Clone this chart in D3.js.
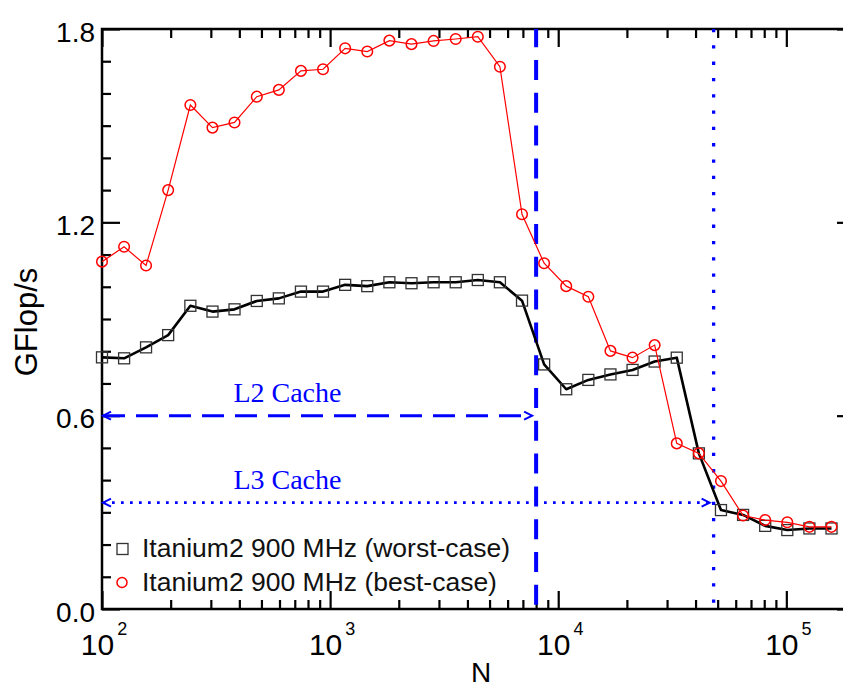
<!DOCTYPE html>
<html>
<head>
<meta charset="utf-8">
<script src="https://cdn.jsdelivr.net/npm/d3@7"></script>
<style>
  html, body { margin: 0; padding: 0; background: #fff; }
  svg { display: block; }
</style>
</head>
<body>
<svg id="chart" width="843" height="689"></svg>
<script>
// problem sizes N (log axis)
const sizes = [100, 125, 156, 195, 244, 305, 381, 477, 596, 745, 931, 1164, 1455, 1819,
  2274, 2842, 3553, 4441, 5551, 6939, 8674, 10842, 13553, 16941, 21176, 26470, 33087,
  41359, 51699, 64623, 80779, 100974, 126218, 157772]

// GFlop/s
const worstCase = [0.781, 0.778, 0.812, 0.850, 0.941, 0.923, 0.930, 0.956, 0.964, 0.985,
  0.985, 1.006, 1.002, 1.014, 1.011, 1.014, 1.014, 1.021, 1.014, 0.957, 0.759, 0.682,
  0.711, 0.728, 0.742, 0.768, 0.780, 0.483, 0.307, 0.292, 0.258, 0.245, 0.250, 0.250]

const bestCase = [1.078, 1.124, 1.066, 1.300, 1.564, 1.494, 1.510, 1.590, 1.611, 1.670,
  1.675, 1.740, 1.730, 1.764, 1.753, 1.763, 1.769, 1.776, 1.683, 1.225, 1.073, 1.002,
  0.969, 0.801, 0.780, 0.819, 0.514, 0.483, 0.397, 0.290, 0.276, 0.269, 0.255, 0.255]

const seriesNames = ["Itanium2 900 MHz (worst-case)", "Itanium2 900 MHz (best-case)"]

const xMajorTicks = [1e2, 1e3, 1e4, 1e5]
const xTickExponents = ["2", "3", "4", "5"]
const yMajorTicks = [0, 0.6, 1.2, 1.8]

// cache boundaries
const cacheSizes = [8000, 48000]
const cacheLevels = [0.6, 0.33]
const cacheLabels = ["L2 Cache", "L3 Cache"]
const cacheLabelN = 650

const svg = d3.select("#chart")

const x = d3.scaleLog().domain([100, 200000]).range([102, 855])
const y = d3.scaleLinear().domain([0, 1.8]).range([609, 29])

const sans = "'Liberation Sans', Arial, Helvetica, sans-serif"
const serif = "'Liberation Serif', 'Times New Roman', serif"

const isPow10 = d => Math.abs(Math.log10(d) - Math.round(Math.log10(d))) < 1e-6
const xMinor = x.ticks().filter(d => !isPow10(d))
const yMinor = y.ticks(18).filter(d => !yMajorTicks.some(m => Math.abs(m - d) < 1e-9))

function addAxis(axis, tx, ty) {
    const g = svg.append("g")
        .attr("transform", `translate(${tx},${ty})`)
        .call(axis)
    g.select(".domain").remove()
    g.selectAll(".tick line").attr("stroke", "#000").attr("stroke-width", 2.2)
    return g
}

// ticks all point inward
addAxis(d3.axisBottom(x).tickValues(xMajorTicks).tickSize(-18).tickFormat(""), 0, 609)
addAxis(d3.axisBottom(x).tickValues(xMinor).tickSize(-9).tickFormat(""), 0, 609)
addAxis(d3.axisTop(x).tickValues(xMajorTicks).tickSize(-18).tickFormat(""), 0, 29)
addAxis(d3.axisTop(x).tickValues(xMinor).tickSize(-9).tickFormat(""), 0, 29)

const yAxis = addAxis(d3.axisLeft(y).tickValues(yMajorTicks).tickSize(-18)
    .tickPadding(7).tickFormat(d3.format(".1f")), 102, 0)
yAxis.selectAll("text")
    .attr("font-family", sans)
    .attr("font-size", 28)
    .attr("fill", "#000")
    .attr("dy", "0.44em")
addAxis(d3.axisLeft(y).tickValues(yMinor).tickSize(-9).tickFormat(""), 102, 0)
addAxis(d3.axisRight(y).tickValues(yMajorTicks).tickSize(-18).tickFormat(""), 855, 0)
addAxis(d3.axisRight(y).tickValues(yMinor).tickSize(-9).tickFormat(""), 855, 0)

// frame
svg.append("rect")
    .attr("x", x.range()[0]).attr("y", y.range()[1])
    .attr("width", x.range()[1] - x.range()[0])
    .attr("height", y.range()[0] - y.range()[1])
    .attr("fill", "none")
    .attr("stroke", "#000")
    .attr("stroke-width", 2.5)

// x tick labels 10^n
const xLabels = svg.append("g")
    .selectAll("text")
    .data(xMajorTicks)
    .join("text")
    .attr("x", d => x(d) + 2)
    .attr("y", 655)
    .attr("text-anchor", "middle")
    .attr("font-family", sans)
    .attr("font-size", 30)
    .attr("fill", "#000")
xLabels.append("tspan").text("10")
xLabels.append("tspan")
    .attr("dy", -20)
    .attr("dx", 3)
    .attr("font-size", 18)
    .text((d, i) => xTickExponents[i])

// axis titles
svg.append("text")
    .attr("transform", "translate(36.5,322) rotate(-90)")
    .attr("text-anchor", "middle")
    .attr("font-family", sans)
    .attr("font-size", 31)
    .text("GFlop/s")

svg.append("text")
    .attr("x", 481)
    .attr("y", 682)
    .attr("text-anchor", "middle")
    .attr("font-family", sans)
    .attr("font-size", 28)
    .text("N")

// cache markers
const blue = "#0000ff"
const yTop = y.range()[1], yBottom = y.range()[0]

svg.append("line")
    .attr("x1", x(cacheSizes[0])).attr("x2", x(cacheSizes[0]))
    .attr("y1", yTop).attr("y2", yBottom)
    .attr("stroke", blue).attr("stroke-width", 4)
    .attr("stroke-dasharray", "20,12.8")
    .attr("stroke-dashoffset", 1.8)

svg.append("line")
    .attr("x1", x(cacheSizes[1])).attr("x2", x(cacheSizes[1]))
    .attr("y1", yTop).attr("y2", yBottom)
    .attr("stroke", blue).attr("stroke-width", 3.3)
    .attr("stroke-dasharray", "3.3,13")

const hDash = ["22,11", "2.7,6.3"]
const hWidth = [3, 2.7]
cacheSizes.forEach((n, i) => {
    const yv = y(cacheLevels[i])
    const xl = x(100) + 1
    const xr = x(n) - 4
    svg.append("line")
        .attr("x1", xl).attr("x2", xr)
        .attr("y1", yv).attr("y2", yv)
        .attr("stroke", blue).attr("stroke-width", hWidth[i])
        .attr("stroke-dasharray", hDash[i])
    svg.append("path")
        .attr("d", `M${xl + 8},${yv - 4}L${xl},${yv}L${xl + 8},${yv + 4}`)
        .attr("fill", "none").attr("stroke", blue).attr("stroke-width", 2)
    svg.append("path")
        .attr("d", `M${xr - 8},${yv - 4}L${xr},${yv}L${xr - 8},${yv + 4}`)
        .attr("fill", "none").attr("stroke", blue).attr("stroke-width", 2)
    svg.append("text")
        .attr("x", x(cacheLabelN))
        .attr("y", yv - 14)
        .attr("text-anchor", "middle")
        .attr("font-family", serif)
        .attr("font-size", 28)
        .attr("fill", blue)
        .text(cacheLabels[i])
})

// series
const line = d3.line()
    .x(d => x(d[0]))
    .y(d => y(d[1]))

const worstData = sizes.map((n, i) => [n, worstCase[i]])
const bestData = sizes.map((n, i) => [n, bestCase[i]])

svg.append("path")
    .datum(worstData)
    .attr("d", line)
    .attr("fill", "none")
    .attr("stroke", "#000")
    .attr("stroke-width", 2.6)
    .attr("stroke-linejoin", "round")

svg.append("g")
    .selectAll("rect")
    .data(worstData)
    .join("rect")
    .attr("x", d => x(d[0]) - 5.5)
    .attr("y", d => y(d[1]) - 5.5)
    .attr("width", 11)
    .attr("height", 11)
    .attr("fill", "none")
    .attr("stroke", "#333")
    .attr("stroke-width", 1.3)

svg.append("path")
    .datum(bestData)
    .attr("d", line)
    .attr("fill", "none")
    .attr("stroke", "#ff0000")
    .attr("stroke-width", 1.2)

svg.append("g")
    .selectAll("circle")
    .data(bestData)
    .join("circle")
    .attr("cx", d => x(d[0]))
    .attr("cy", d => y(d[1]))
    .attr("r", 5.3)
    .attr("fill", "none")
    .attr("stroke", "#ff0000")
    .attr("stroke-width", 1.5)

// legend
const legend = svg.append("g").attr("font-family", sans).attr("font-size", 26.5)
legend.append("rect")
    .attr("x", 117).attr("y", 543.5)
    .attr("width", 11).attr("height", 11)
    .attr("fill", "none").attr("stroke", "#333").attr("stroke-width", 1.3)
legend.append("circle")
    .attr("cx", 122).attr("cy", 582.5).attr("r", 5)
    .attr("fill", "none").attr("stroke", "#ff0000").attr("stroke-width", 1.5)
legend.selectAll("text")
    .data(seriesNames)
    .join("text")
    .attr("x", 142)
    .attr("y", (d, i) => 557 + i * 34)
    .attr("fill", "#111")
    .text(d => d)
</script>
</body>
</html>
